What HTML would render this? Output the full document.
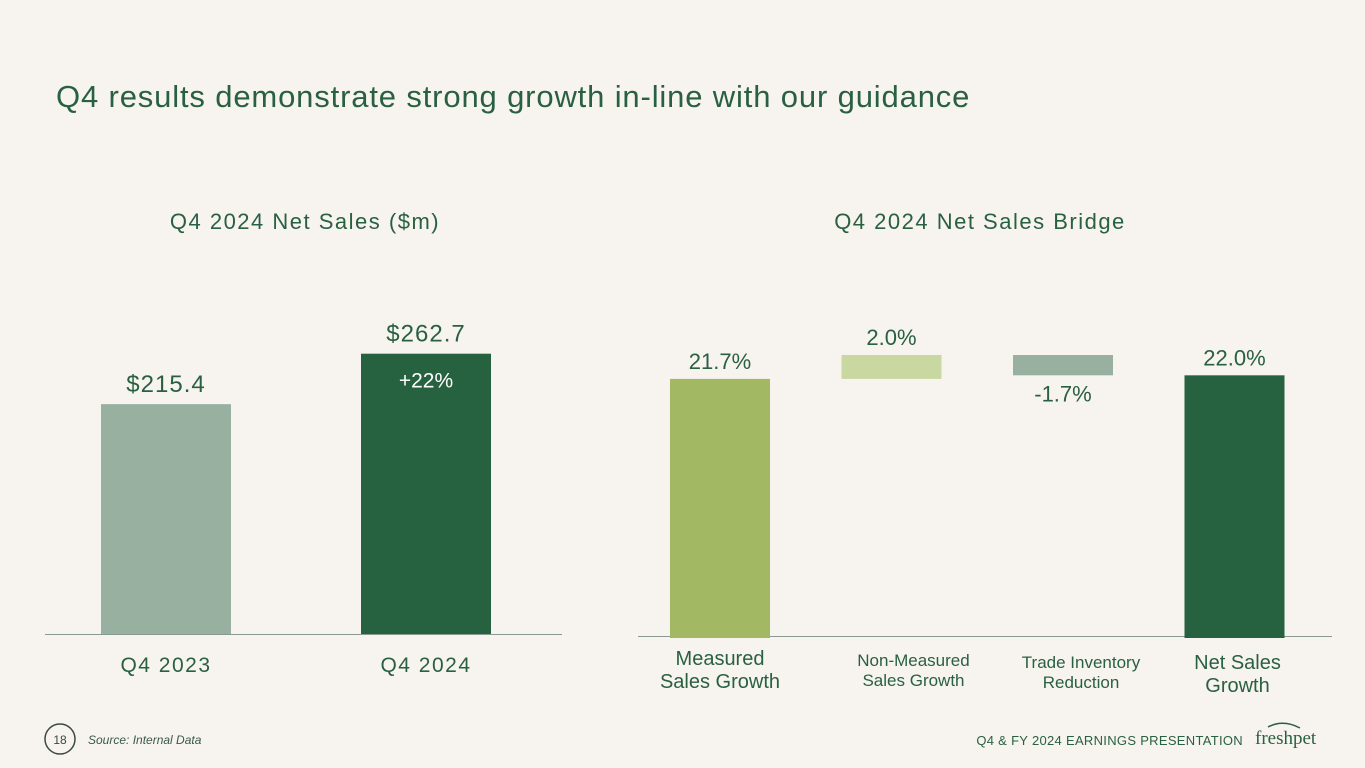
<!DOCTYPE html>
<html><head><meta charset="utf-8"><style>
body{margin:0;background:#f7f3ef;}
svg{display:block;font-family:"Liberation Sans",sans-serif;}
</style></head><body>
<svg id="s" width="1365" height="768" viewBox="0 0 1365 768">
<rect width="1365" height="768" fill="#f7f3ef"/>
<text x="56" y="107" font-size="31" letter-spacing="0.85" fill="#2a6042">Q4 results demonstrate strong growth in-line with our guidance</text>
<text x="305" y="229" font-size="22" letter-spacing="1.5" fill="#2a6042" text-anchor="middle">Q4 2024 Net Sales ($m)</text>
<text x="980" y="229" font-size="22" letter-spacing="1.5" fill="#2a6042" text-anchor="middle">Q4 2024 Net Sales Bridge</text>
<line x1="45" y1="634.5" x2="562" y2="634.5" stroke="#8a9a90" stroke-width="1"/>
<line x1="638" y1="636.5" x2="1332" y2="636.5" stroke="#8a9a90" stroke-width="1"/>
<g id="left"></g><g id="right"></g>
<circle cx="60" cy="739" r="15" fill="none" stroke="#3a4a40" stroke-width="1.5"/>
<text x="60" y="744" font-size="12" fill="#3a4a40" text-anchor="middle">18</text>
<text x="88" y="744" font-size="12" font-style="italic" fill="#3a5a48">Source: Internal Data</text>
<text x="1243" y="745" font-size="13" letter-spacing="0.3" fill="#2a6042" text-anchor="end">Q4 &amp; FY 2024 EARNINGS PRESENTATION</text>
<text x="1255" y="744" font-size="19" fill="#2a6042" font-family="Liberation Serif,serif">freshpet</text>
<path d="M1268 727 q15 -8 32 1" stroke="#2a6042" fill="none" stroke-width="1.5"/>
</svg>
<script>
const leftCats=["Q4 2023","Q4 2024"];
const leftVals=[215.4,262.7];
const leftLabels=["$215.4","$262.7"];
const bridgeCats=[["Measured","Sales Growth"],["Non-Measured","Sales Growth"],["Trade Inventory","Reduction"],["Net Sales","Growth"]];
const bridgeVals=[21.7,2.0,-1.7,22.0];
const bridgeLabels=["21.7%","2.0%","-1.7%","22.0%"];
const NS="http://www.w3.org/2000/svg";
function mk(p,t,a){const e=document.createElementNS(NS,t);for(const k in a)e.setAttribute(k,a[k]);p.appendChild(e);return e;}
const L=document.getElementById('left'),R=document.getElementById('right');
const ly=v=>634-v*1.067, lx=i=>101+i*260;
const lcol=["#97b0a0","#276240"];
leftVals.forEach((v,i)=>{
 const r=mk(L,'rect',{x:lx(i),y:ly(v),width:130,height:634-ly(v),fill:lcol[i]});
 
 
 const t=mk(L,'text',{x:lx(i)+65,y:ly(v)-12,'font-size':24,'letter-spacing':1,fill:'#2a6042','text-anchor':'middle'});t.textContent=leftLabels[i];
 
 
 const c=mk(L,'text',{x:lx(i)+65,y:672,'font-size':21,'letter-spacing':1.5,fill:'#2a6042','text-anchor':'middle'});c.textContent=leftCats[i];
 
 
});
const g=mk(L,'text',{x:lx(1)+65,y:ly(leftVals[1])+34,'font-size':21,fill:'#fff','text-anchor':'middle'});g.textContent="+"+Math.round((leftVals[1]/leftVals[0]-1)*100)+"%";


const ry=v=>638-v*11.94, rx=i=>670+i*171.5;
const rcol=["#a2b862","#c8d8a0","#97b0a0","#276240"];
const labOff=[0,22,18,3];
let cum=0;
bridgeVals.forEach((v,i)=>{
 let a,b;
 if(i==0||i==bridgeVals.length-1){a=0;b=v;cum=v;}else{a=cum;b=cum+v;cum=b;}
 const top=ry(Math.max(a,b)),bot=ry(Math.min(a,b));
 const r=mk(R,'rect',{x:rx(i),y:top,width:100,height:bot-top,fill:rcol[i]});
 
 
 const ty=v<0?bot+26:top-10;
 const t=mk(R,'text',{x:rx(i)+50,y:ty,'font-size':22,fill:'#2a6042','text-anchor':'middle'});t.textContent=bridgeLabels[i];
 
 
 const big=(i==0||i==3);
 bridgeCats[i].forEach((s,j)=>{
  const c=mk(R,'text',{x:rx(i)+50+labOff[i],y:(big?665:666)+(i==3?4:(i==2?2:0))+j*(big?23:20),'font-size':big?20:17,fill:'#2a6042','text-anchor':'middle'});c.textContent=s;
  
  
 });
});
</script>
</body></html>
